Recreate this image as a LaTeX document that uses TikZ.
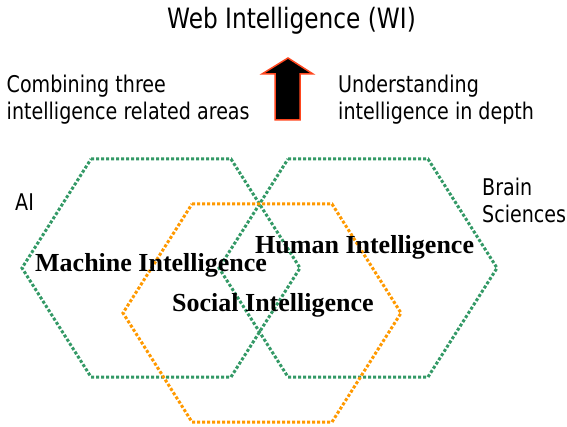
\documentclass[tikz,border=0pt]{standalone}
\usepackage{fontspec}
\setmainfont{Liberation Serif}
\newfontfamily\labelfont[FakeStretch=0.83]{DejaVu Sans}
\usetikzlibrary{positioning}

\definecolor{hexgreen}{RGB}{51,153,102}
\definecolor{hexorange}{RGB}{255,153,0}
\definecolor{arrowred}{RGB}{255,70,30}

\begin{document}
\begin{tikzpicture}[x=1pt,y=-1pt,
    every node/.style={inner sep=0pt},
    title/.style={font=\labelfont\fontsize{28}{32}\selectfont},
    remark/.style={font=\labelfont\fontsize{23}{26.5}\selectfont, align=left},
    area/.style={font=\bfseries\fontsize{26}{30}\selectfont},
    hexline/.style={line width=3pt, dash pattern=on 3pt off 2pt}]

    \useasboundingbox (0,0) rectangle (567,427);

    \foreach \col/\cx/\cy in {hexgreen/161/268, hexgreen/358/268, hexorange/262/313}
        \draw[hexline, draw=\col, shift={(\cx,\cy)}]
            (-70,-109) -- (70,-109) -- (139,0) -- (70,109) -- (-70,109) -- (-139,0) -- cycle;

    \draw[fill=black, draw=arrowred, line width=1.5pt]
        (275,120) -- (275,74) -- (262,74) -- (288,58) -- (313,74) -- (300,74) -- (300,120) -- cycle;

    \node[title, anchor=base] (wi) at (291.5,29) {Web Intelligence (WI)};
    \node[remark, anchor=north west] (combine) at (6.5,75) {Combining three\\intelligence related areas};
    \node[remark, anchor=north west] (depth) at (338,75) {Understanding\\intelligence in depth};
    \node[remark, anchor=base west] (ai) at (15,211) {AI};
    \node[remark, anchor=north west] (brain) at (482,178) {Brain\\Sciences};

    \node[area, anchor=base west] (machine) at (35,272) {Machine Intelligence};
    \node[area, anchor=base west] (human) at (255,254) {Human Intelligence};
    \node[area, anchor=base west] (social) at (172,312) {Social Intelligence};

\end{tikzpicture}
\end{document}
